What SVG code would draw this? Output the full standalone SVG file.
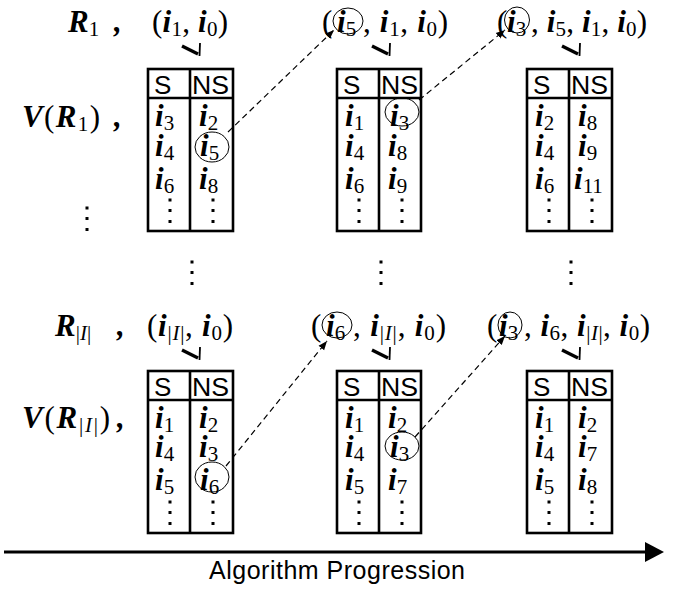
<svg xmlns="http://www.w3.org/2000/svg" width="673" height="593" viewBox="0 0 673 593">
<style>
.t{font-family:"Liberation Serif","Times New Roman",serif;font-size:31px;fill:#000}
.b{font-weight:bold;font-style:italic}
.it{font-style:italic}
.sub{font-size:21px;font-weight:normal;font-style:normal}
.h{font-family:"Liberation Sans",Arial,sans-serif;font-size:26px;fill:#000}
.box{fill:none;stroke:#000;stroke-width:2.6}
.cir{fill:none;stroke:#000;stroke-width:1}
.mk1{fill:none;stroke:#000;stroke-width:3.4;stroke-linecap:butt}
.mk2{fill:none;stroke:#000;stroke-width:1.8}
.dash{fill:none;stroke:#000;stroke-width:1.2;stroke-dasharray:6 4}
.lbl{font-family:"Liberation Sans",Arial,sans-serif;font-size:25px;fill:#000}
</style>
<defs>
<marker id="ah" viewBox="0 0 10 10" refX="10" refY="5" markerWidth="9" markerHeight="9" orient="auto" markerUnits="userSpaceOnUse"><path d="M0,1 L10,5 L0,9z" fill="#000"/></marker>
<g id="dots"><rect x="-1.5" y="-1.5" width="3" height="3"/><rect x="-1.5" y="9" width="3" height="3"/><rect x="-1.5" y="20" width="3" height="3"/></g>
<g id="mark"><path class="mk1" d="M0,2 L16,10"/><path class="mk2" d="M18,-1 L17.5,12"/></g>
</defs>

<g id="labels">
<text class="t" x="68" y="32"><tspan class="b">R</tspan><tspan class="sub" dy="4">1</tspan></text>
<text class="t b" x="114" y="32">,</text>
<text class="t" x="22" y="127" textLength="78" lengthAdjust="spacing"><tspan class="b">V</tspan>(<tspan class="b">R</tspan><tspan class="sub" dy="4">1</tspan><tspan dy="-4">)</tspan></text>
<text class="t b" x="114" y="127">,</text>
<text class="t" x="55" y="336"><tspan class="b">R</tspan><tspan class="sub" dy="4">|<tspan class="it">I</tspan>|</tspan></text>
<text class="t b" x="117" y="336">,</text>
<text class="t" x="22" y="428" textLength="88" lengthAdjust="spacing"><tspan class="b">V</tspan>(<tspan class="b">R</tspan><tspan class="sub" dy="4">|<tspan class="it">I</tspan>|</tspan><tspan dy="-4">)</tspan></text>
<text class="t b" x="117" y="428">,</text>
<g id="vdots-left"><use href="#dots" x="87" y="208"/></g>
<g id="vdots-mid"><use href="#dots" x="192" y="262"/><use href="#dots" x="381" y="262"/><use href="#dots" x="571" y="262"/></g>
</g>

<g id="tuple-r1-1">
<text class="t" x="152" y="32" textLength="76" lengthAdjust="spacing">(<tspan class="b">i</tspan><tspan class="sub" dy="4">1</tspan><tspan dy="-4">, </tspan><tspan class="b">i</tspan><tspan class="sub" dy="4">0</tspan><tspan dy="-4">)</tspan></text>
<use href="#mark" x="182" y="44"/>
</g>
<g id="tuple-r1-2">
<text class="t" x="322" y="32">(</text>
<text class="t" x="337" y="32"><tspan class="b">i</tspan><tspan class="sub" dy="4">5</tspan></text>
<ellipse class="cir" cx="348" cy="21" rx="15" ry="13"/>
<text class="t" x="363" y="32" textLength="85" lengthAdjust="spacing">, <tspan class="b">i</tspan><tspan class="sub" dy="4">1</tspan><tspan dy="-4">, </tspan><tspan class="b">i</tspan><tspan class="sub" dy="4">0</tspan><tspan dy="-4">)</tspan></text>
<use href="#mark" x="372" y="44"/>
</g>
<g id="tuple-r1-3">
<text class="t" x="497" y="32">(</text>
<text class="t" x="507" y="32"><tspan class="b">i</tspan><tspan class="sub" dy="4">3</tspan></text>
<ellipse class="cir" cx="517" cy="20" rx="12.5" ry="13"/>
<text class="t" x="531" y="32" textLength="116" lengthAdjust="spacing">, <tspan class="b">i</tspan><tspan class="sub" dy="4">5</tspan><tspan dy="-4">, </tspan><tspan class="b">i</tspan><tspan class="sub" dy="4">1</tspan><tspan dy="-4">, </tspan><tspan class="b">i</tspan><tspan class="sub" dy="4">0</tspan><tspan dy="-4">)</tspan></text>
<use href="#mark" x="562" y="44"/>
</g>

<g id="tuple-ri-1">
<text class="t" x="147" y="336" textLength="86" lengthAdjust="spacing">(<tspan class="b">i</tspan><tspan class="sub" dy="4">|<tspan class="it">I</tspan>|</tspan><tspan dy="-4">, </tspan><tspan class="b">i</tspan><tspan class="sub" dy="4">0</tspan><tspan dy="-4">)</tspan></text>
<use href="#mark" x="182" y="348"/>
</g>
<g id="tuple-ri-2">
<text class="t" x="311" y="336">(</text>
<text class="t" x="326" y="336"><tspan class="b">i</tspan><tspan class="sub" dy="4">6</tspan></text>
<ellipse class="cir" cx="337" cy="325" rx="15" ry="13"/>
<text class="t" x="353" y="336" textLength="93" lengthAdjust="spacing">, <tspan class="b">i</tspan><tspan class="sub" dy="4">|<tspan class="it">I</tspan>|</tspan><tspan dy="-4">, </tspan><tspan class="b">i</tspan><tspan class="sub" dy="4">0</tspan><tspan dy="-4">)</tspan></text>
<use href="#mark" x="372" y="348"/>
</g>
<g id="tuple-ri-3">
<text class="t" x="487" y="336">(</text>
<text class="t" x="499" y="336"><tspan class="b">i</tspan><tspan class="sub" dy="4">3</tspan></text>
<ellipse class="cir" cx="510" cy="325" rx="12" ry="13"/>
<text class="t" x="524" y="336" textLength="126" lengthAdjust="spacing">, <tspan class="b">i</tspan><tspan class="sub" dy="4">6</tspan><tspan dy="-4">, </tspan><tspan class="b">i</tspan><tspan class="sub" dy="4">|<tspan class="it">I</tspan>|</tspan><tspan dy="-4">, </tspan><tspan class="b">i</tspan><tspan class="sub" dy="4">0</tspan><tspan dy="-4">)</tspan></text>
<use href="#mark" x="562" y="348"/>
</g>

<g id="table-r1-1">
<rect class="box" x="148" y="69" width="85" height="162"/>
<line class="box" x1="148" y1="98" x2="233" y2="98"/><line class="box" x1="190" y1="69" x2="190" y2="231"/>
<text class="h" x="154" y="94">S</text><text class="h" x="192" y="94" textLength="37" lengthAdjust="spacingAndGlyphs">NS</text>
<text class="t" x="155" y="126"><tspan class="b">i</tspan><tspan class="sub" dy="4">3</tspan></text>
<text class="t" x="155" y="156"><tspan class="b">i</tspan><tspan class="sub" dy="4">4</tspan></text>
<text class="t" x="155" y="189"><tspan class="b">i</tspan><tspan class="sub" dy="4">6</tspan></text>
<text class="t" x="199" y="126"><tspan class="b">i</tspan><tspan class="sub" dy="4">2</tspan></text>
<text class="t" x="200" y="156"><tspan class="b">i</tspan><tspan class="sub" dy="4">5</tspan></text>
<text class="t" x="199" y="189"><tspan class="b">i</tspan><tspan class="sub" dy="4">8</tspan></text>
<ellipse class="cir" cx="212" cy="147" rx="17" ry="15"/>
<use href="#dots" x="170" y="200"/><use href="#dots" x="213" y="200"/>
</g>
<g id="table-r1-2">
<rect class="box" x="337" y="69" width="84" height="162"/>
<line class="box" x1="337" y1="98" x2="421" y2="98"/><line class="box" x1="379" y1="69" x2="379" y2="231"/>
<text class="h" x="343" y="94">S</text><text class="h" x="381" y="94" textLength="37" lengthAdjust="spacingAndGlyphs">NS</text>
<text class="t" x="345" y="126"><tspan class="b">i</tspan><tspan class="sub" dy="4">1</tspan></text>
<text class="t" x="345" y="156"><tspan class="b">i</tspan><tspan class="sub" dy="4">4</tspan></text>
<text class="t" x="345" y="189"><tspan class="b">i</tspan><tspan class="sub" dy="4">6</tspan></text>
<text class="t" x="390" y="126"><tspan class="b">i</tspan><tspan class="sub" dy="4">3</tspan></text>
<text class="t" x="388" y="156"><tspan class="b">i</tspan><tspan class="sub" dy="4">8</tspan></text>
<text class="t" x="388" y="189"><tspan class="b">i</tspan><tspan class="sub" dy="4">9</tspan></text>
<ellipse class="cir" cx="402" cy="112" rx="17" ry="14"/>
<use href="#dots" x="359" y="200"/><use href="#dots" x="402" y="200"/>
</g>
<g id="table-r1-3">
<rect class="box" x="527" y="69" width="85" height="162"/>
<line class="box" x1="527" y1="98" x2="612" y2="98"/><line class="box" x1="569" y1="69" x2="569" y2="231"/>
<text class="h" x="533" y="94">S</text><text class="h" x="571" y="94" textLength="37" lengthAdjust="spacingAndGlyphs">NS</text>
<text class="t" x="535" y="126"><tspan class="b">i</tspan><tspan class="sub" dy="4">2</tspan></text>
<text class="t" x="535" y="156"><tspan class="b">i</tspan><tspan class="sub" dy="4">4</tspan></text>
<text class="t" x="535" y="189"><tspan class="b">i</tspan><tspan class="sub" dy="4">6</tspan></text>
<text class="t" x="578" y="126"><tspan class="b">i</tspan><tspan class="sub" dy="4">8</tspan></text>
<text class="t" x="578" y="156"><tspan class="b">i</tspan><tspan class="sub" dy="4">9</tspan></text>
<text class="t" x="574" y="189"><tspan class="b">i</tspan><tspan class="sub" dy="4">11</tspan></text>
<use href="#dots" x="549" y="200"/><use href="#dots" x="592" y="200"/>
</g>

<g id="table-ri-1">
<rect class="box" x="148" y="371" width="85" height="162"/>
<line class="box" x1="148" y1="400" x2="233" y2="400"/><line class="box" x1="190" y1="371" x2="190" y2="533"/>
<text class="h" x="154" y="396">S</text><text class="h" x="192" y="396" textLength="37" lengthAdjust="spacingAndGlyphs">NS</text>
<text class="t" x="155" y="428"><tspan class="b">i</tspan><tspan class="sub" dy="4">1</tspan></text>
<text class="t" x="155" y="457"><tspan class="b">i</tspan><tspan class="sub" dy="4">4</tspan></text>
<text class="t" x="155" y="490"><tspan class="b">i</tspan><tspan class="sub" dy="4">5</tspan></text>
<text class="t" x="199" y="428"><tspan class="b">i</tspan><tspan class="sub" dy="4">2</tspan></text>
<text class="t" x="199" y="457"><tspan class="b">i</tspan><tspan class="sub" dy="4">3</tspan></text>
<text class="t" x="200" y="490"><tspan class="b">i</tspan><tspan class="sub" dy="4">6</tspan></text>
<ellipse class="cir" cx="212" cy="477" rx="17" ry="15"/>
<use href="#dots" x="170" y="502"/><use href="#dots" x="213" y="502"/>
</g>
<g id="table-ri-2">
<rect class="box" x="337" y="371" width="84" height="162"/>
<line class="box" x1="337" y1="400" x2="421" y2="400"/><line class="box" x1="379" y1="371" x2="379" y2="533"/>
<text class="h" x="343" y="396">S</text><text class="h" x="381" y="396" textLength="37" lengthAdjust="spacingAndGlyphs">NS</text>
<text class="t" x="345" y="428"><tspan class="b">i</tspan><tspan class="sub" dy="4">1</tspan></text>
<text class="t" x="345" y="457"><tspan class="b">i</tspan><tspan class="sub" dy="4">4</tspan></text>
<text class="t" x="345" y="490"><tspan class="b">i</tspan><tspan class="sub" dy="4">5</tspan></text>
<text class="t" x="388" y="428"><tspan class="b">i</tspan><tspan class="sub" dy="4">2</tspan></text>
<text class="t" x="390" y="457"><tspan class="b">i</tspan><tspan class="sub" dy="4">3</tspan></text>
<text class="t" x="388" y="490"><tspan class="b">i</tspan><tspan class="sub" dy="4">7</tspan></text>
<ellipse class="cir" cx="402" cy="446" rx="17" ry="14"/>
<use href="#dots" x="359" y="502"/><use href="#dots" x="402" y="502"/>
</g>
<g id="table-ri-3">
<rect class="box" x="527" y="371" width="85" height="162"/>
<line class="box" x1="527" y1="400" x2="612" y2="400"/><line class="box" x1="569" y1="371" x2="569" y2="533"/>
<text class="h" x="533" y="396">S</text><text class="h" x="571" y="396" textLength="37" lengthAdjust="spacingAndGlyphs">NS</text>
<text class="t" x="535" y="428"><tspan class="b">i</tspan><tspan class="sub" dy="4">1</tspan></text>
<text class="t" x="535" y="457"><tspan class="b">i</tspan><tspan class="sub" dy="4">4</tspan></text>
<text class="t" x="535" y="490"><tspan class="b">i</tspan><tspan class="sub" dy="4">5</tspan></text>
<text class="t" x="578" y="428"><tspan class="b">i</tspan><tspan class="sub" dy="4">2</tspan></text>
<text class="t" x="578" y="457"><tspan class="b">i</tspan><tspan class="sub" dy="4">7</tspan></text>
<text class="t" x="578" y="490"><tspan class="b">i</tspan><tspan class="sub" dy="4">8</tspan></text>
<use href="#dots" x="549" y="502"/><use href="#dots" x="592" y="502"/>
</g>

<g id="connectors">
<line class="dash" x1="228" y1="132" x2="334" y2="30" marker-end="url(#ah)"/>
<line class="dash" x1="419" y1="100" x2="505" y2="30" marker-end="url(#ah)"/>
<line class="dash" x1="226" y1="466" x2="327" y2="341" marker-end="url(#ah)"/>
<line class="dash" x1="415" y1="437" x2="505" y2="336" marker-end="url(#ah)"/>
<line x1="4" y1="552" x2="647" y2="552" stroke="#000" stroke-width="2.8"/>
<polygon points="645,542 664,552 645,562" fill="#000"/>
</g>
<text class="lbl" x="209" y="579" textLength="256" lengthAdjust="spacing">Algorithm Progression</text>
</svg>
